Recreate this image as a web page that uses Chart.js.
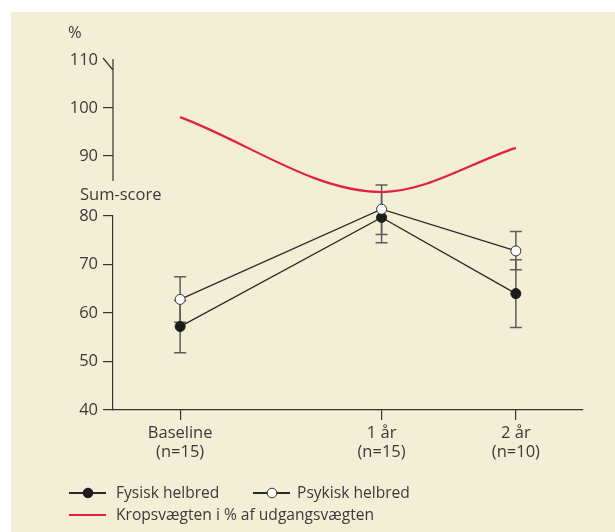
<!DOCTYPE html>
<html>
<head>
<meta charset="utf-8">
<script src="https://cdn.jsdelivr.net/npm/chart.js@4/dist/chart.umd.min.js"></script>
<style>
  html, body { margin: 0; padding: 0; background: #fff; }
  canvas { display: block; }
</style>
</head>
<body>
<canvas id="chart" width="615" height="532"></canvas>
<script>
// data
const timeLabels = [['Baseline', '(n=15)'], ['1 år', '(n=15)'], ['2 år', '(n=10)']];
const timePoints = [0, 3, 5];
const fysisk = [57.2, 79.7, 64.0];
const fysiskLow = [51.8, 74.5, 57.0];
const fysiskHigh = [62.6, 84.9, 71.0];
const psykisk = [62.8, 81.4, 72.8];
const psykiskLow = [58.1, 76.2, 68.9];
const psykiskHigh = [67.5, 86.4, 76.8];
const vaegt = [98.1, 82.5, 91.7];
const scoreTicks = [40, 50, 60, 70, 80];
const pctTicks = [90, 100, 110];

const axisColor = '#333';
const textColor = '#3a3a3a';
const bg = '#f3efd6';
const red = '#e2203f';
const fontFamily = '"Open Sans", "Noto Sans", sans-serif';

const pts = vals => vals.map((v, i) => ({ x: timePoints[i], y: v }));

const background = {
  id: 'background',
  beforeDraw(chart) {
    const c = chart.ctx;
    c.save();
    c.fillStyle = bg;
    c.fillRect(11, 12, chart.width - 11, chart.height - 12);
    c.restore();
  }
};

const errorBars = {
  id: 'errorBars',
  beforeDatasetsDraw(chart) {
    const c = chart.ctx;
    const xs = chart.scales.x;
    c.save();
    c.strokeStyle = '#5c5c5c';
    c.lineWidth = 1.5;
    chart.data.datasets.forEach(ds => {
      if (!ds.errLow) return;
      const ys = chart.scales[ds.yAxisID || 'y'];
      ds.errLow.forEach((lo, i) => {
        const x = xs.getPixelForValue(timePoints[i]);
        const y1 = ys.getPixelForValue(lo);
        const y2 = ys.getPixelForValue(ds.errHigh[i]);
        c.beginPath();
        c.moveTo(x, y1); c.lineTo(x, y2);
        c.moveTo(x - 6, y1); c.lineTo(x + 6, y1);
        c.moveTo(x - 6, y2); c.lineTo(x + 6, y2);
        c.stroke();
      });
    });
    c.restore();
  }
};

const extras = {
  id: 'extras',
  afterDraw(chart) {
    const c = chart.ctx;
    const top = chart.scales.yTop;
    const low = chart.scales.y;
    const left = chart.chartArea.left;
    c.save();
    // upper (broken) axis line and slanted top tick
    c.strokeStyle = axisColor;
    c.lineWidth = 1.2;
    const y110 = top.getPixelForValue(110);
    c.beginPath();
    c.moveTo(left, y110 - 1);
    c.lineTo(left, top.getPixelForValue(84.8));
    c.moveTo(left - 10, y110 - 2);
    c.lineTo(left, y110 + 10);
    c.stroke();

    // axis titles
    c.fillStyle = textColor;
    c.font = '16.5px ' + fontFamily;
    c.textBaseline = 'middle';
    c.textAlign = 'left';
    c.fillText('%', left - 45, y110 - 27);
    c.fillText('Sum-score', left - 33, low.getPixelForValue(80) - 21);

    // legend
    const slots = [{ x: 69, y: 493 }, { x: 253, y: 493 }, { x: 69, y: 515 }];
    c.font = '15.6px ' + fontFamily;
    chart.data.datasets.forEach((ds, i) => {
      const s = slots[i];
      c.strokeStyle = ds.borderColor;
      c.lineWidth = 2;
      c.beginPath();
      c.moveTo(s.x, s.y);
      c.lineTo(s.x + 37, s.y);
      c.stroke();
      if (ds.pointRadius) {
        c.beginPath();
        c.arc(s.x + 19, s.y, 4.8, 0, Math.PI * 2);
        c.fillStyle = ds.pointBackgroundColor;
        c.fill();
        c.lineWidth = 1;
        c.strokeStyle = ds.pointBorderColor;
        c.stroke();
      }
      c.fillStyle = textColor;
      c.fillText(ds.label, s.x + (i === 1 ? 44 : 47), s.y + 1);
    });
    c.restore();
  }
};

const tickFont = { family: fontFamily, size: 16.5 };

new Chart(document.getElementById('chart'), {
  type: 'line',
  data: {
    datasets: [
      {
        label: 'Fysisk helbred',
        data: pts(fysisk),
        errLow: fysiskLow,
        errHigh: fysiskHigh,
        yAxisID: 'y',
        order: 1,
        borderColor: '#2a2a2a',
        borderWidth: 1.3,
        pointRadius: 5,
        pointBackgroundColor: '#1c1c1c',
        pointBorderColor: '#1c1c1c',
        pointBorderWidth: 1,
        clip: false
      },
      {
        label: 'Psykisk helbred',
        data: pts(psykisk),
        errLow: psykiskLow,
        errHigh: psykiskHigh,
        yAxisID: 'y',
        order: 0,
        borderColor: '#2a2a2a',
        borderWidth: 1.3,
        pointRadius: 5,
        pointBackgroundColor: '#ffffff',
        pointBorderColor: '#333',
        pointBorderWidth: 1,
        clip: false
      },
      {
        label: 'Kropsvægten i % af udgangsvægten',
        data: pts(vaegt),
        yAxisID: 'yTop',
        order: 2,
        borderColor: red,
        borderWidth: 2.2,
        pointRadius: 0,
        cubicInterpolationMode: 'monotone',
        clip: false
      }
    ]
  },
  options: {
    responsive: false,
    animation: false,
    layout: { padding: { top: 60, right: 32, left: 0, bottom: 0 } },
    plugins: {
      legend: { display: false },
      tooltip: { enabled: false }
    },
    scales: {
      x: {
        type: 'linear',
        min: -1,
        max: 6,
        afterBuildTicks: s => { s.ticks = timePoints.map(v => ({ value: v })); },
        afterFit: s => { s.height = 122; },
        ticks: {
          autoSkip: false,
          maxRotation: 0,
          padding: 3,
          color: textColor,
          font: tickFont,
          callback: v => timeLabels[timePoints.indexOf(v)]
        },
        grid: { drawOnChartArea: false, tickLength: 10, color: axisColor, lineWidth: 1.2 },
        border: { color: axisColor, width: 1.2 }
      },
      y: {
        type: 'linear',
        position: 'left',
        stack: 'left',
        stackWeight: 194,
        min: 40,
        max: 80,
        afterBuildTicks: s => { s.ticks = scoreTicks.map(v => ({ value: v })); },
        afterFit: s => { s.width = 113; },
        ticks: { padding: 5, color: textColor, font: tickFont },
        grid: { drawOnChartArea: false, tickLength: 10, color: axisColor, lineWidth: 1.2 },
        border: { color: axisColor, width: 1.2 }
      },
      yTop: {
        type: 'linear',
        position: 'left',
        stack: 'left',
        stackWeight: 156,
        min: 77.5,
        max: 110,
        afterBuildTicks: s => { s.ticks = pctTicks.map(v => ({ value: v })); },
        afterFit: s => { s.width = 113; },
        ticks: { padding: 5, color: textColor, font: tickFont },
        grid: {
          drawOnChartArea: false,
          tickLength: 10,
          lineWidth: 1.2,
          color: ctx => (ctx.tick && ctx.tick.value === 110) ? 'rgba(0,0,0,0)' : axisColor
        },
        border: { display: false }
      }
    }
  },
  plugins: [background, errorBars, extras]
});
</script>
</body>
</html>
